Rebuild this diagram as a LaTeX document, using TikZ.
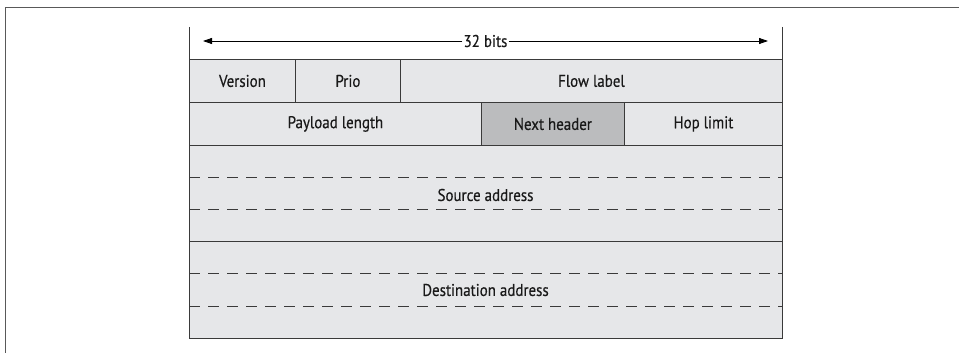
\documentclass[tikz,border=0pt]{standalone}
\usepackage{fontspec}
\setmainfont{PT Sans}[FakeStretch=0.88,FakeBold=0.4]
\usetikzlibrary{arrows.meta}
\definecolor{cellfill}{HTML}{E6E7E9}
\definecolor{darkfill}{HTML}{BBBCBE}
\definecolor{edge}{HTML}{3A3A3A}
\tikzset{
  lbl/.style={font=\fontsize{17}{19}\selectfont, text=black!90},
  cell/.style={draw=edge, line width=0.9pt, fill=cellfill, anchor=north west, inner sep=0pt, lbl},
  dashline/.style={draw=edge, line width=0.8pt, dash pattern=on 11pt off 8pt},
  frame/.style={draw=black!65, line width=0.9pt},
  arr/.style={draw=black, line width=0.8pt, -{Triangle[length=9pt,width=6pt]}},
}
\begin{document}
\begin{tikzpicture}[x=1pt,y=-1pt]
\useasboundingbox (0,0) rectangle (959,353);
% outer frame (open to right and bottom)
\draw[frame] (5,353) -- (5,7) -- (959,7);
% vertical guides above
\draw[edge, line width=0.9pt] (189,27) -- (189,59);
\draw[edge, line width=0.9pt] (782,27) -- (782,59);
% width label with arrows
\node[lbl, inner sep=1pt] (bits) at (485.5,41) {32 bits};
\coordinate (leftend) at (203,41);
\coordinate (rightend) at (768,41);
\draw[arr] (bits.west) -- (leftend);
\draw[arr] (bits.east) -- (rightend);
% row 1
\node[cell, minimum width=106pt, minimum height=43pt] (version) at (189,59) {Version};
\node[cell, minimum width=105pt, minimum height=43pt] (prio) at (295,59) {Prio};
\node[cell, minimum width=382pt, minimum height=43pt] (flow) at (400,59) {Flow label};
% row 2
\node[cell, minimum width=292pt, minimum height=43pt] (payload) at (189,102) {Payload length};
\node[cell, fill=darkfill, minimum width=143pt, minimum height=43pt] (next) at (481,102) {Next header};
\node[cell, minimum width=158pt, minimum height=43pt] (hop) at (624,102) {Hop limit};
% source address
\node[cell, minimum width=593pt, minimum height=96pt] (src) at (189,145) {};
\node[lbl] (srctext) at (485.5,195) {Source address};
\draw[dashline] (src.west |- 0,177) -- (src.east |- 0,177);
\draw[dashline] (src.west |- 0,209) -- (src.east |- 0,209);
% destination address
\node[cell, minimum width=593pt, minimum height=97pt] (dst) at (189,241) {};
\node[lbl] (dsttext) at (485.5,290) {Destination address};
\draw[dashline] (dst.west |- 0,273) -- (dst.east |- 0,273);
\draw[dashline] (dst.west |- 0,306) -- (dst.east |- 0,306);
\end{tikzpicture}
\end{document}
